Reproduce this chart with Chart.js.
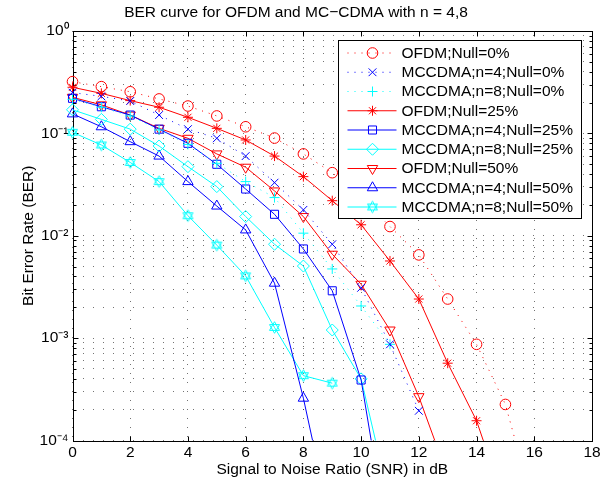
<!DOCTYPE html>
<html>
<head>
<meta charset="utf-8">
<script src="https://cdn.jsdelivr.net/npm/chart.js@4/dist/chart.umd.min.js"></script>
<style>
  html, body { margin: 0; padding: 0; background: #fff; }
</style>
</head>
<body>
<canvas id="ber" width="610" height="485"></canvas>
<script>
// SNR w dB (oś X)
const snr = [0, 1, 2, 3, 4, 5, 6, 7, 8, 9, 10, 11, 12, 13, 14, 15, 16];

// BER
const ofdmNull0     = [0.32, 0.286, 0.255, 0.217, 0.185, 0.148, 0.116, 0.090, 0.063, 0.0413, 0.024, 0.0123, 0.0065, 0.00241, 0.00087, 0.000225, 2.1e-5];
const mccdma4Null0  = [0.25, 0.23, 0.207, 0.151, 0.11, 0.0895, 0.060, 0.033, 0.0179, 0.00826, 0.0031, 0.00087, 0.000195];
const mccdma8Null0  = [0.215, 0.18, 0.148, 0.108, 0.078, 0.051, 0.0338, 0.0236, 0.0106, 0.00474, 0.00206, 0.00087];
const ofdmNull25    = [0.282, 0.246, 0.209, 0.18, 0.1436, 0.112, 0.0862, 0.060, 0.0378, 0.022, 0.0128, 0.00567, 0.00241, 0.000569, 0.000156, 2.3e-5];
const mccdma4Null25 = [0.22, 0.182, 0.151, 0.11, 0.080, 0.0499, 0.0286, 0.0162, 0.00743, 0.0029, 0.00039, 8e-6];
const mccdma8Null25 = [0.17, 0.137, 0.11, 0.0753, 0.0473, 0.0302, 0.0154, 0.00826, 0.00506, 0.0012, 0.0004, 2.5e-5];
const ofdmNull50    = [0.225, 0.19, 0.151, 0.112, 0.0895, 0.063, 0.0467, 0.0274, 0.0154, 0.0066, 0.00336, 0.0012, 0.000268, 4.5e-5];
const mccdma4Null50 = [0.155, 0.116, 0.083, 0.060, 0.0338, 0.0195, 0.0114, 0.00344, 0.000259, 1.3e-5];
const mccdma8Null50 = [0.1025, 0.077, 0.052, 0.0338, 0.0157, 0.0081, 0.00405, 0.00127, 0.00043, 0.000363];

const xTicksStep = 2;
const yDecades = [-4, -3, -2, -1, 0];

const FONT = 'Liberation Sans, Arial, Helvetica, sans-serif';
const RED = '#ff0000', BLUE = '#0000ff', CYAN = '#00ffff';

function pts(values) {
  return values.map((v, i) => ({ x: snr[i], y: v }));
}

function isDecade(v) {
  const l = Math.log10(v);
  return Math.abs(l - Math.round(l)) < 1e-9;
}

const SUP = { '-': '\u207B', '0': '\u2070', '1': '\u00B9', '2': '\u00B2', '3': '\u00B3', '4': '\u2074' };
function supLabel(exp) {
  return '10' + String(exp).split('').map(ch => SUP[ch]).join('');
}

// heksagram (gwiazda Dawida) jako marker
function hexagram(color) {
  const c = document.createElement('canvas');
  c.width = 15; c.height = 15;
  const g = c.getContext('2d');
  g.strokeStyle = color;
  g.lineWidth = 1;
  const r = 5.8, cx = 7.5, cy = 7.5;
  [0, Math.PI].forEach(rot => {
    g.beginPath();
    for (let k = 0; k < 3; k++) {
      const a = rot + k * 2 * Math.PI / 3;
      const px = cx + r * Math.sin(a), py = cy - r * Math.cos(a);
      if (k === 0) g.moveTo(px, py); else g.lineTo(px, py);
    }
    g.closePath();
    g.stroke();
  });
  return c;
}

function series(label, values, color, style, radius, dotted, rotation) {
  return {
    label,
    data: pts(values),
    borderColor: color,
    backgroundColor: 'transparent',
    borderWidth: 1,
    borderDash: dotted ? [1, 6] : [],
    pointStyle: style,
    pointRotation: rotation || 0,
    pointRadius: radius,
    pointHoverRadius: radius,
    pointBorderWidth: 1,
    pointBorderColor: color,
    pointBackgroundColor: 'transparent',
    tension: 0,
    clip: { left: 8, top: 0, right: 0, bottom: 0 }
  };
}

const datasets = [
  series('OFDM;Null=0%', ofdmNull0, RED, 'circle', 5.3, true),
  series('MCCDMA;n=4;Null=0%', mccdma4Null0, BLUE, 'crossRot', 5.5, true),
  series('MCCDMA;n=8;Null=0%', mccdma8Null0, CYAN, 'cross', 5, true),
  series('OFDM;Null=25%', ofdmNull25, RED, 'star', 5, false),
  series('MCCDMA;n=4;Null=25%', mccdma4Null25, BLUE, 'rect', 5.7, false),
  series('MCCDMA;n=8;Null=25%', mccdma8Null25, CYAN, 'rectRot', 6, false),
  series('OFDM;Null=50%', ofdmNull50, RED, 'triangle', 6, false, 180),
  series('MCCDMA;n=4;Null=50%', mccdma4Null50, BLUE, 'triangle', 6, false),
  series('MCCDMA;n=8;Null=50%', mccdma8Null50, CYAN, hexagram(CYAN), 6, false)
];

// ramka osi i krótkie znaczniki do środka, jak w MATLAB-ie
const frameTicks = {
  id: 'frameTicks',
  beforeDatasetsDraw(chart) {
    const { ctx, chartArea: a, scales: { x, y } } = chart;
    const L = Math.round(a.left) + 0.5, R = Math.round(a.right) + 0.5;
    const T = Math.round(a.top) + 0.5, B = Math.round(a.bottom) + 0.5;
    ctx.save();
    ctx.strokeStyle = '#000';
    ctx.lineWidth = 1;
    ctx.beginPath();
    x.ticks.forEach(t => {
      const px = Math.round(x.getPixelForValue(t.value)) + 0.5;
      ctx.moveTo(px, B); ctx.lineTo(px, B - 5);
      ctx.moveTo(px, T); ctx.lineTo(px, T + 5);
    });
    y.ticks.forEach(t => {
      const len = isDecade(t.value) ? 5 : 3;
      const py = Math.round(y.getPixelForValue(t.value)) + 0.5;
      ctx.moveTo(L, py); ctx.lineTo(L + len, py);
      ctx.moveTo(R, py); ctx.lineTo(R - len, py);
    });
    ctx.stroke();
    ctx.strokeRect(L, T, R - L, B - T);
    ctx.restore();
  }
};

// legenda w ramce wewnątrz obszaru wykresu
const boxLegend = {
  id: 'boxLegend',
  afterDatasetsDraw(chart) {
    const { ctx, chartArea: a } = chart;
    const left = Math.round(a.right - 254) + 0.5;
    const top = Math.round(a.top + 9) + 0.5;
    const w = 243, h = 178, row = 19.25;
    ctx.save();
    ctx.fillStyle = '#fff';
    ctx.fillRect(left, top, w, h);
    ctx.strokeStyle = '#000';
    ctx.lineWidth = 1;
    ctx.strokeRect(left, top, w, h);
    chart.data.datasets.forEach((ds, i) => {
      const cy = top + 12.5 + i * row;
      ctx.strokeStyle = ds.borderColor;
      ctx.lineWidth = 1;
      ctx.setLineDash(ds.borderDash);
      ctx.beginPath();
      ctx.moveTo(left + 9, cy);
      ctx.lineTo(left + 58, cy);
      ctx.stroke();
      ctx.setLineDash([]);
      ctx.fillStyle = 'transparent';
      Chart.helpers.drawPoint(ctx, {
        pointStyle: ds.pointStyle,
        rotation: ds.pointRotation,
        radius: ds.pointRadius,
        borderWidth: 1
      }, left + 34, cy);
      ctx.fillStyle = '#000';
      ctx.font = '15.5px ' + FONT;
      ctx.textAlign = 'left';
      ctx.textBaseline = 'middle';
      ctx.fillText(ds.label, left + 63, cy + 0.5);
    });
    ctx.restore();
  }
};

Chart.defaults.font.family = FONT;
Chart.defaults.font.size = 15.5;
Chart.defaults.color = '#000';

new Chart(document.getElementById('ber'), {
  type: 'line',
  data: { datasets },
  options: {
    responsive: false,
    animation: false,
    events: [],
    layout: { padding: { left: 0, right: 18, top: 0, bottom: 0 } },
    plugins: {
      legend: { display: false },
      tooltip: { enabled: false },
      title: {
        display: true,
        text: 'BER curve for OFDM and MC\u2212CDMA with n = 4,8',
        color: '#000',
        font: { size: 15.5, weight: 'normal' },
        padding: { top: 3, bottom: 9.4 }
      }
    },
    scales: {
      x: {
        type: 'linear',
        min: 0,
        max: 18,
        afterFit: s => { s.height = 44.5; },
        ticks: { stepSize: xTicksStep, padding: 3, maxRotation: 0 },
        grid: { color: 'rgba(0,0,0,0.55)', drawTicks: false, lineWidth: 1 },
        border: { display: false, dash: [1, 8] },
        title: {
          display: true,
          text: 'Signal to Noise Ratio (SNR) in dB',
          padding: { top: 0, bottom: 6 }
        }
      },
      y: {
        type: 'logarithmic',
        min: Math.pow(10, yDecades[0]),
        max: Math.pow(10, yDecades[yDecades.length - 1]),
        afterFit: s => { s.width = 72.5; },
        afterBuildTicks: s => {
          const ticks = [];
          for (let k = yDecades[0]; k < yDecades[yDecades.length - 1]; k++) {
            for (let m = 1; m < 10; m++) ticks.push({ value: m * Math.pow(10, k) });
          }
          ticks.push({ value: 1 });
          s.ticks = ticks;
        },
        ticks: {
          autoSkip: false,
          padding: 4,
          callback: v => isDecade(v) ? supLabel(Math.round(Math.log10(v))) : ''
        },
        grid: { color: 'rgba(0,0,0,0.55)', drawTicks: false, lineWidth: 1 },
        border: { display: false, dash: [1, 9] },
        title: {
          display: true,
          text: 'Bit Error Rate (BER)',
          padding: { top: 19, bottom: 0 }
        }
      }
    }
  },
  plugins: [frameTicks, boxLegend]
});
</script>
</body>
</html>
